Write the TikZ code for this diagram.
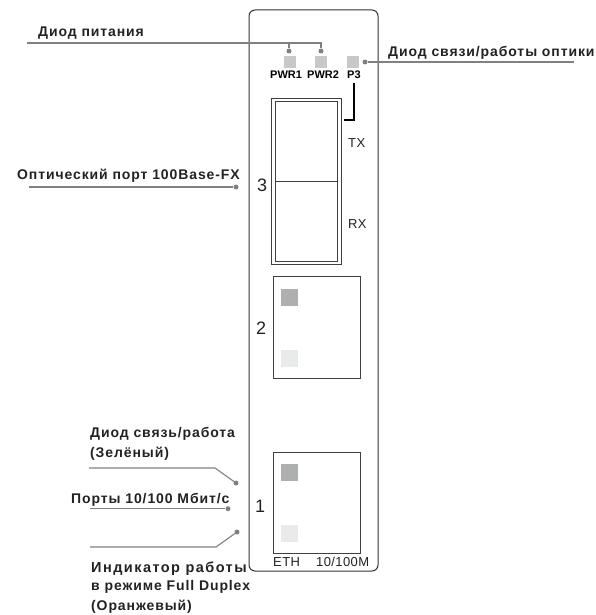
\documentclass[tikz,border=0pt]{standalone}
\usepackage{fontspec}
\setmainfont{Liberation Sans}
\newfontfamily\lblfont[LetterSpace=6.4]{Liberation Sans Bold}
\newfontfamily\lblwidefont[LetterSpace=10]{Liberation Sans Bold}
\newfontfamily\tagfont{Liberation Sans Bold}
\newfontfamily\plainfont[LetterSpace=3.0]{Liberation Sans}
\usetikzlibrary{calc}
\definecolor{ink}{HTML}{222222}
\definecolor{leadc}{HTML}{808080}
\definecolor{ledmid}{HTML}{C8C8C8}
\definecolor{leddark}{HTML}{AEB0AF}
\definecolor{ledlight}{HTML}{E9EBEA}
\tikzset{
  px/.style={x=1pt,y=-1pt},
  lbl/.style={anchor=base west,inner sep=0pt,text=ink,font=\lblfont\fontsize{14}{16}\selectfont},
  lblwide/.style={lbl,font=\lblwidefont\fontsize{14.5}{16}\selectfont},
  tagtxt/.style={anchor=base west,inner sep=0pt,text=black,font=\tagfont\fontsize{11}{12}\selectfont},
  smalltxt/.style={anchor=base west,inner sep=0pt,text=ink,font=\plainfont\fontsize{13}{15}\selectfont},
  numtxt/.style={anchor=base west,inner sep=0pt,text=ink,font=\fontsize{18}{20}\selectfont},
  dot/.style={circle,fill=leadc,draw=none,inner sep=0pt,minimum size=5pt},
  lead/.style={draw=leadc,line width=1.1pt},
  panelbox/.style={draw=black!80,line width=1pt,rounded corners=6pt},
  portbox/.style={draw=black!75,line width=1pt},
}
\begin{document}
\begin{tikzpicture}[px]
\useasboundingbox (0,0) rectangle (595,615);
% panel
\draw[panelbox] (249,10) rectangle (378,571);
% optical port
\draw[portbox] (271,98.5) rectangle (341.5,264);
\draw[portbox] (275,101.5) rectangle (337.5,261.5);
\draw[portbox] (275,181) -- (337.5,181);
% RJ ports
\draw[portbox] (273.7,276.7) rectangle (360.5,378);
\draw[portbox] (273.7,452) rectangle (360.5,553);
% status LEDs
\fill[ledmid] (284,56) rectangle (296,68);
\fill[ledmid] (315,56) rectangle (327,68);
\fill[ledmid] (347,56) rectangle (359,68);
% port LEDs
\fill[leddark] (281,289) rectangle (298,306);
\fill[ledlight] (281,350) rectangle (298,367);
\fill[leddark] (281,464) rectangle (298,481);
\fill[ledlight] (281,525) rectangle (298,542);
% P3 bracket
\coordinate (brA) at (354,83);
\coordinate (brB) at (354,120);
\coordinate (brC) at (344,120);
\draw[black,line width=1.5pt] (brA) -- (brB) -- (brC);
% dots
\node[dot] (dpwr1) at (289,51) {};
\node[dot] (dpwr2) at (321,51) {};
\node[dot] (dlink) at (365,62) {};
\node[dot] (dfx) at (236,187) {};
\node[dot] (dgreen) at (236,483) {};
\node[dot] (dport) at (228,508.7) {};
\node[dot] (dfull) at (237,532) {};
% lead ends
\coordinate (pwrS) at (27,43);
\coordinate (pwrM) at (289,43);
\coordinate (pwrE) at (321,43);
\coordinate (linkE) at (574,62);
\coordinate (fxS) at (29,187);
\coordinate (greenS) at (89,468);
\coordinate (greenB) at (215,468);
\coordinate (portS) at (90,508.7);
\coordinate (fullS) at (90,547);
\coordinate (fullB) at (216,547);
% leads
\draw[lead] (pwrS) -- (pwrE) -- (dpwr2);
\draw[lead] (pwrM) -- (dpwr1);
\draw[lead] (dlink) -- (linkE);
\draw[lead] (fxS) -- (dfx);
\draw[lead] (greenS) -- (greenB) -- (dgreen);
\draw[lead] (portS) -- (dport);
\draw[lead] (fullS) -- (fullB) -- (dfull);
% labels
\node[lbl] (t1) at (38,37) {Диод питания};
\node[lbl] (t2) at (388,57) {Диод связи/работы оптики};
\node[lbl] (t3) at (17,179) {Оптический порт 100Base-FX};
\node[lbl] (t4) at (90,437) {Диод связь/работа};
\node[lbl] (t5) at (90,457) {(Зелёный)};
\node[lbl] (t6) at (71,503) {Порты 10/100 Мбит/с};
\node[lblwide] (t7) at (91,572) {Индикатор работы};
\node[lbl] (t8) at (91,590) {в режиме Full Duplex};
\node[lbl] (t9) at (91,610) {(Оранжевый)};
\node[tagtxt] (p1) at (270,79) {PWR1};
\node[tagtxt] (p2) at (307,79) {PWR2};
\node[tagtxt] (p3) at (347,79) {P3};
\node[smalltxt] (tx) at (348,147) {TX};
\node[smalltxt] (rx) at (348,228) {RX};
\node[smalltxt] (eth) at (273,566) {ETH};
\node[smalltxt] (spd) at (316,566) {10/100M};
\node[numtxt] (n3) at (257,191) {3};
\node[numtxt] (n2) at (256,334) {2};
\node[numtxt] (n1) at (255,512) {1};
\end{tikzpicture}
\end{document}
